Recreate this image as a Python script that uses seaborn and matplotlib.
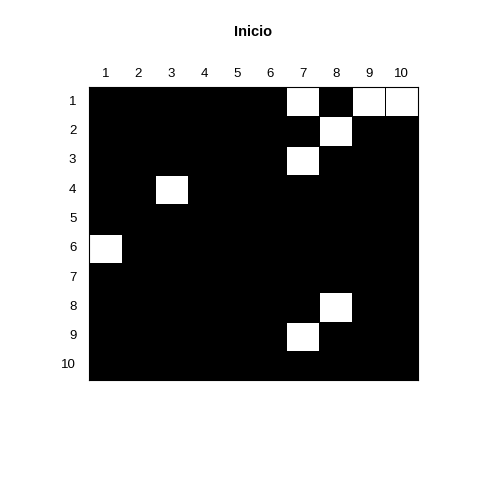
import numpy as np
import pandas as pd
import seaborn as sns
import matplotlib
matplotlib.use('Agg')
import matplotlib.pyplot as plt
from matplotlib.colors import ListedColormap

# Grid labels
rows = [str(i) for i in range(1, 11)]
cols = [str(i) for i in range(1, 11)]

# White (alive) cells as (row, col), 1-based
white_cells = [(1, 7), (1, 9), (1, 10), (2, 8), (3, 7), (4, 3), (6, 1), (8, 8), (9, 7)]

grid = np.zeros((10, 10), dtype=int)
for r, c in white_cells:
    grid[r - 1, c - 1] = 1
df = pd.DataFrame(grid, index=rows, columns=cols)

plt.rcParams['font.family'] = ['Liberation Sans', 'DejaVu Sans']

fig = plt.figure(figsize=(4.8, 4.8), dpi=100)
ax = fig.add_axes([0.185, 0.208, 0.686, 0.611])

sns.heatmap(df, ax=ax, cmap=ListedColormap(['black', 'white']), vmin=0, vmax=1,
            cbar=False, linewidths=0.6, linecolor='black', square=False)

ax.xaxis.tick_top()
ax.tick_params(axis='x', length=0, labelsize=9.5, pad=5)
ax.tick_params(axis='y', length=0, labelsize=9.5, pad=9)
ax.set_yticklabels(rows, rotation=0)
ax.set_xticklabels(cols, rotation=0)
for s in ax.spines.values():
    s.set_visible(True)
    s.set_color('black')
    s.set_linewidth(0.8)

fig.text(0.528, 0.933, 'Inicio', ha='center', va='center', fontsize=10.5, fontweight='bold')

fig.savefig('out.png', dpi=100)
